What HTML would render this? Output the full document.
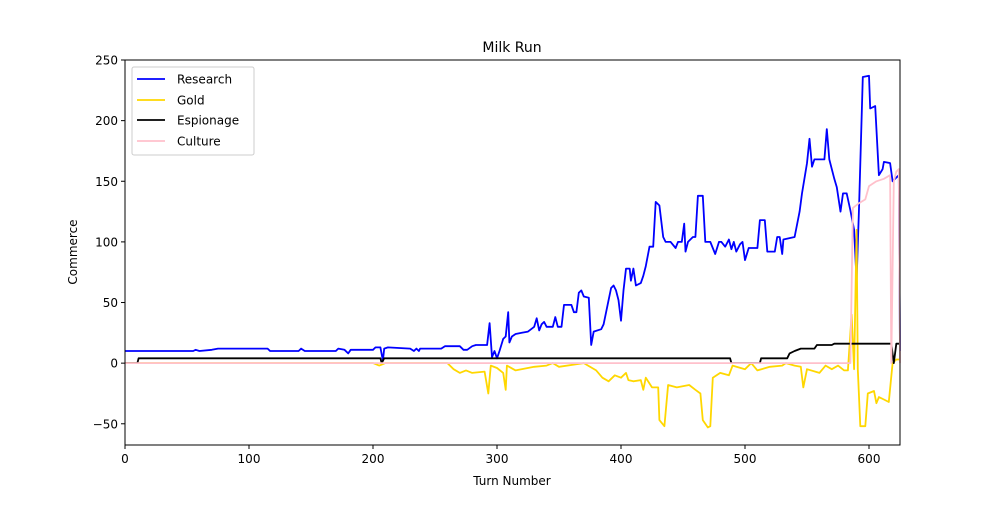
<!DOCTYPE html>
<html><head><meta charset="utf-8"><style>
body{margin:0;background:#fff;}
svg text{font-family:"DejaVu Sans","Liberation Sans",sans-serif;}
</style></head><body>
<svg id="chart" width="1000" height="500" xmlns="http://www.w3.org/2000/svg">
<rect x="0" y="0" width="1000" height="500" fill="#fff"/>
<text x="512" y="52" font-size="14" text-anchor="middle">Milk Run</text>
<g id="plot"></g>
<g id="axes"></g>
<text x="512" y="485" font-size="12" text-anchor="middle">Turn Number</text>
<text x="77" y="252" font-size="12" text-anchor="middle" transform="rotate(-90 77 252)">Commerce</text>
<g>
<rect x="132" y="67" width="122" height="88" fill="#fff" fill-opacity="0.8" stroke="#ccc" rx="2"/>
<g><line x1="137" y1="79" x2="165" y2="79" stroke="#0000ff" stroke-width="1.8"/><text x="177" y="83.5" font-size="12">Research</text></g>
<g><line x1="137" y1="100" x2="165" y2="100" stroke="#ffd700" stroke-width="1.8"/><text x="177" y="104.5" font-size="12">Gold</text></g>
<g><line x1="137" y1="120" x2="165" y2="120" stroke="#000" stroke-width="1.8"/><text x="177" y="124.5" font-size="12">Espionage</text></g>
<g><line x1="137" y1="141" x2="165" y2="141" stroke="#ffc0cb" stroke-width="1.8"/><text x="177" y="145.5" font-size="12">Culture</text></g>
</g>
</svg>
<script>
const xTicks=[0,100,200,300,400,500,600];
const yTicks=[-50,0,50,100,150,200,250];
const researchPts=[[0,10],[55,10],[57,11],[60,10],[70,11],[75,12],[115,12],[117,10],[140,10],[142,12],[145,10],[170,10],[172,12],[177,11],[180,8],[182,11],[200,11],[202,13],[206,13],[208,2],[209,12],[212,13],[230,12],[233,10],[235,12],[237,10],[238,12],[255,12],[258,14],[270,14],[273,11],[276,11],[280,14],[283,15],[292,15],[294,33],[296,5],[298,10],[300,4],[302,10],[305,20],[307,22],[309,42],[310,17],[312,22],[315,24],[320,25],[325,26],[330,30],[332,37],[334,27],[336,32],[338,34],[340,30],[345,30],[347,38],[349,30],[352,30],[354,48],[360,48],[362,42],[364,42],[366,58],[368,60],[370,55],[374,54],[376,15],[378,26],[384,28],[386,32],[390,52],[392,62],[394,64],[396,60],[398,52],[400,35],[402,60],[404,78],[407,78],[408,68],[410,78],[412,64],[416,66],[418,72],[420,80],[423,96],[426,96],[428,133],[431,130],[434,104],[436,100],[440,100],[444,95],[446,100],[449,100],[451,115],[452,92],[454,100],[458,104],[460,104],[462,138],[466,138],[468,100],[472,100],[476,90],[479,100],[481,100],[484,96],[487,102],[489,94],[491,100],[493,92],[496,98],[498,100],[500,85],[503,95],[510,95],[512,118],[516,118],[518,92],[524,92],[526,104],[528,104],[530,90],[531,102],[540,104],[544,125],[546,140],[550,165],[552,185],[554,162],[556,168],[564,168],[566,193],[568,168],[572,152],[574,145],[577,125],[579,140],[582,140],[585,126],[588,110],[590,68],[592,130],[595,236],[600,237],[601,210],[605,212],[608,155],[611,160],[612,166],[617,165],[619,150],[622,153],[624,155],[625,10]];
const goldPts=[[0,0],[200,0],[205,-2],[210,0],[260,0],[265,-5],[270,-8],[275,-6],[280,-8],[290,-7],[293,-25],[295,-2],[300,-4],[305,-8],[307,-22],[308,-2],[315,-6],[330,-3],[340,-2],[345,0],[350,-3],[370,0],[380,-6],[385,-12],[390,-15],[395,-10],[400,-12],[404,-8],[406,-14],[410,-15],[416,-14],[418,-22],[420,-12],[425,-20],[430,-20],[431,-47],[435,-52],[438,-18],[445,-20],[455,-18],[460,-22],[464,-25],[466,-47],[470,-53],[472,-52],[474,-12],[480,-8],[487,-10],[490,-2],[500,-5],[505,0],[510,-6],[520,-3],[530,-2],[533,0],[540,-2],[545,-3],[547,-20],[550,-5],[560,-8],[565,-2],[570,-5],[575,-2],[580,-6],[583,-6],[586,40],[588,-5],[590,110],[591,-5],[593,-52],[597,-52],[599,-25],[604,-23],[606,-33],[608,-28],[612,-30],[616,-32],[619,0],[622,3],[625,3]];
const espionagePts=[[0,0],[10,0],[11,4],[206,4],[207,0],[209,4],[488,4],[489,0],[512,0],[513,4],[534,4],[536,8],[540,10],[545,12],[556,12],[558,15],[570,15],[572,16],[618,16],[620,0],[622,16],[625,16]];
const culturePts=[[0,0],[585,0],[587,128],[592,132],[597,135],[600,146],[606,150],[612,152],[617,155],[618,0],[620,150],[622,158],[624,160],[625,0]];

const L=125,R=900,T=60,B=445,X0=0,X1=625,Y0=-67.5,Y1=250;
const sx=v=>L+(v-X0)/(X1-X0)*(R-L);
const sy=v=>B-(v-Y0)/(Y1-Y0)*(B-T);
const NS="http://www.w3.org/2000/svg";
const plot=document.getElementById('plot'), axes=document.getElementById('axes');
function line(pts,color,name){
  const p=document.createElementNS(NS,'polyline');
  p.setAttribute('points',pts.map(d=>sx(d[0]).toFixed(1)+','+sy(d[1]).toFixed(1)).join(' '));
  p.setAttribute('fill','none');p.setAttribute('stroke',color);p.setAttribute('stroke-width','1.8');
  p.setAttribute('stroke-linejoin','round');
  
  
  plot.appendChild(p);
}
line(researchPts,'#0000ff','research-line');
line(goldPts,'#ffd700','gold-line');
line(espionagePts,'#000000','espionage-line');
line(culturePts,'#ffc0cb','culture-line');
const frame=document.createElementNS(NS,'rect');
frame.setAttribute('x',L);frame.setAttribute('y',T);frame.setAttribute('width',R-L);frame.setAttribute('height',B-T);
frame.setAttribute('fill','none');frame.setAttribute('stroke','#000');frame.setAttribute('stroke-width','1');


axes.appendChild(frame);
xTicks.forEach(v=>{
  const g=document.createElementNS(NS,'g');
  
  
  g.innerHTML=`<line x1="${sx(v)}" y1="${B}" x2="${sx(v)}" y2="${B+4}" stroke="#000"/><text x="${sx(v)}" y="${B+18}" font-size="12" text-anchor="middle">${v}</text>`;
  axes.appendChild(g);
});
yTicks.forEach(v=>{
  const g=document.createElementNS(NS,'g');
  
  
  g.innerHTML=`<line x1="${L-4}" y1="${sy(v)}" x2="${L}" y2="${sy(v)}" stroke="#000"/><text x="${L-7}" y="${sy(v)+4.5}" font-size="12" text-anchor="end">${v<0?'\u2212'+(-v):v}</text>`;
  axes.appendChild(g);
});
</script>
</body></html>
